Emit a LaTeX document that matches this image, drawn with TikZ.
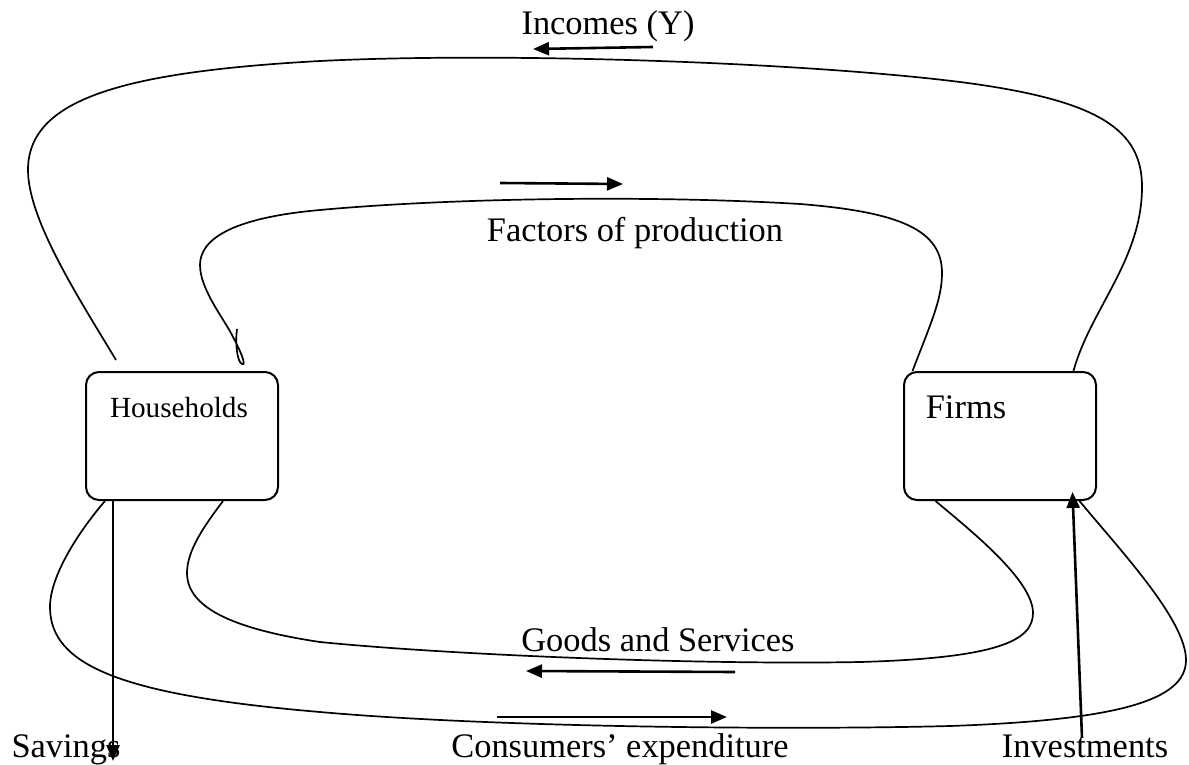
\documentclass[tikz,border=0pt]{standalone}
\usepackage{fontspec}
\setmainfont{Liberation Serif}
\usetikzlibrary{positioning, arrows.meta}

\begin{document}
\begin{tikzpicture}[x=0.5pt, y=-0.5pt,
  box/.style = {draw, line width=1pt, rounded corners=6.5pt, minimum width=96pt, minimum height=64pt},
  flow/.style = {line width=0.85pt},
  arr/.style = {line width=1.3pt, -{Triangle[length=8pt, width=6.5pt]}},
  big/.style = {font=\fontsize{17.2}{20}\selectfont, inner sep=0pt},
  small/.style = {font=\fontsize{14.6}{17}\selectfont, inner sep=0pt}]
\useasboundingbox (0,0) rectangle (1189,765);
% the two sectors
\node[box] (hh) at (182,436) {};
\node[box, right=312pt of hh] (firms) {};
\node[small, anchor=base] (hhlbl) at (179,417) {Households};
\node[big, anchor=base] (firmslbl) at (966,418) {Firms};
% labels
\node[big, anchor=base] (incomes) at (608,35) {Incomes (Y)};
\node[big, anchor=base] (factors) at (635,242) {Factors of production};
\node[big, anchor=base] (goods) at (658,651) {Goods and Services};
\node[big, anchor=base] (savings) at (66,757) {Savings};
\node[big, anchor=base] (consumers) at (620,757) {Consumers’ expenditure};
\node[big, anchor=base] (invest) at (1085,757) {Investments};
% incomes
\draw[flow] ([xshift=-33pt, yshift=5.5pt]hh.north) .. controls (80,300) and (28,220) .. (28,170)
  .. controls (28,100) and (120,72) .. (320,61) .. controls (500,52) and (800,62) .. (960,82)
  .. controls (1100,100) and (1142,130) .. (1142,187)
  .. controls (1142,260) and (1090,310) .. ([xshift=36.75pt]firms.north);
% factors of production
\draw[flow] ([xshift=-43.75pt]firms.north) .. controls (930,325) and (942,300) .. (942,273)
  .. controls (942,230) and (900,212) .. (800,204) .. controls (650,195) and (450,198) .. (320,210)
  .. controls (230,218) and (200,240) .. (200,265) .. controls (200,290) and (225,320) .. (233,337)
  .. controls (240,350) and (247,366) .. (242,364) .. controls (237,362) and (235,342) .. (237,329);
% goods and services
\draw[flow] ([xshift=20.5pt]hh.south) .. controls (205,525) and (187,550) .. (187,573)
  .. controls (187,610) and (240,630) .. (320,642) .. controls (450,655) and (700,665) .. (860,662)
  .. controls (1000,658) and (1033,640) .. (1033,613)
  .. controls (1033,580) and (970,530) .. ([xshift=-32.25pt]firms.south);
% consumers' expenditure
\draw[flow] ([xshift=-38.5pt]hh.south) .. controls (80,530) and (50,575) .. (50,607)
  .. controls (50,665) and (120,695) .. (320,712) .. controls (500,728) and (800,730) .. (950,726)
  .. controls (1120,720) and (1186,700) .. (1186,660)
  .. controls (1186,620) and (1120,550) .. ([xshift=39.75pt]firms.south);
% direction arrows
\draw[arr] (653,47) -- (533,49);
\draw[arr] (500,183) -- (623,184);
\draw[arr] (735,672) -- (526,671);
\draw[arr] (497,717) -- (727,717);
% leakage and injection
\coordinate (savend) at (113,761);
\coordinate (invstart) at (1082,738);
\draw[arr] ([xshift=-34.5pt]hh.south) -- (savend);
\draw[arr] (invstart) -- ([xshift=36.25pt, yshift=4.5pt]firms.south);
\end{tikzpicture}
\end{document}
